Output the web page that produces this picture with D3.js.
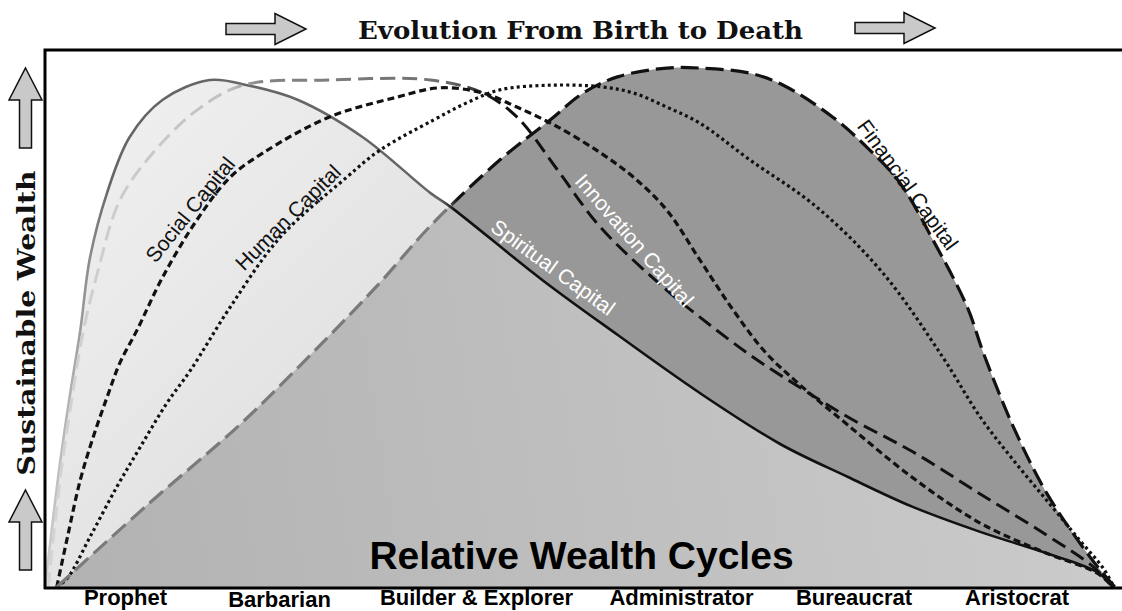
<!DOCTYPE html>
<html>
<head>
<meta charset="utf-8">
<script src="https://cdn.jsdelivr.net/npm/d3@7"></script>
<style>
  html, body { margin: 0; padding: 0; background: #fff; }
  svg { display: block; }
</style>
</head>
<body>
<div id="chart"></div>
<script>
// x = position in the life cycle (0 = birth, 100 = death), y = relative wealth (0-100)
const spiritualCapital = [[0,0],[1.4,23.8],[2.3,36.5],[3.3,49.4],[4.2,63.3],[5.8,75.8],[7.9,86.5],[11.0,93.7],[15.4,97.5],[18.9,96.5],[23.6,93.7],[29.7,86.5],[36.0,75.8],[37.9,73.1],[46.5,59.0],[53.5,48.5],[61.2,37.3],[68.7,27.5],[75.0,21.2],[81.1,15.4],[87.4,10.6],[93.6,6.5],[98.3,2.9],[99.8,0]];
const innovationCapital = [[0.3,0],[1.4,20.6],[2.3,33.5],[3.6,49.4],[4.9,60.4],[7.0,74.4],[10.1,83.5],[14.2,91.7],[18.5,96.5],[26.6,97.5],[36.0,97.5],[40.9,95.0],[44.1,90.4],[47.9,80.2],[51.9,69.2],[58.1,57.1],[61.2,51.9],[65.9,44.6],[70.6,38.3],[75.2,32.5],[81.1,26.0],[87.4,17.9],[93.6,10.0],[97.9,4.0],[99.8,0]];
const socialCapital = [[1.1,0],[2.1,9.6],[3.3,20.6],[4.5,28.8],[5.8,36.5],[7.0,43.1],[8.6,49.4],[11.0,59.6],[14.2,70.6],[17.3,78.8],[20.4,83.5],[26.6,90.4],[32.9,94.2],[36.9,96.0],[40.9,95.0],[44.1,92.3],[47.9,88.5],[51.9,83.5],[55.0,78.8],[58.1,72.5],[61.2,62.9],[64.3,53.3],[67.3,45.2],[70.6,38.8],[75.0,31.2],[81.1,21.0],[87.4,12.3],[93.6,6.5],[98.3,2.7],[99.8,0]];
const humanCapital = [[1.1,0],[2.1,1.7],[4.2,9.6],[6.7,19.2],[8.9,26.9],[11.4,35.4],[13.6,41.7],[17.3,53.8],[22.0,67.3],[28.2,78.8],[31.3,84.0],[36.3,89.8],[39.4,93.1],[42.5,95.6],[47.2,96.5],[51.9,96.2],[55.0,95.0],[58.1,92.3],[61.2,89.2],[65.9,82.1],[72.1,73.1],[78.3,60.4],[83.9,44.2],[87.4,32.7],[90.5,24.4],[93.6,16.7],[96.7,9.0],[98.9,3.6],[99.9,0]];
const financialCapital = [[1.1,0],[9.8,16.2],[18.2,31.2],[25.0,45.0],[31.3,58.5],[36.0,69.4],[42.5,82.1],[47.2,89.8],[50.3,95.0],[53.5,98.1],[58.1,99.8],[61.2,99.8],[65.9,98.8],[69.0,96.5],[73.6,90.4],[76.8,84.6],[79.9,77.7],[83.0,66.7],[86.2,53.8],[87.7,45.0],[90.5,30.8],[93.6,18.1],[96.7,8.5],[98.6,3.3],[100,0]];

const stages = ['Prophet', 'Barbarian', 'Builder & Explorer', 'Administrator', 'Bureaucrat', 'Aristocrat'];

// layout
const width = 1122, height = 611;
const stagePos = [[125.5, 605], [279.5, 606.5], [476.5, 605], [681.5, 605], [854, 605], [1017, 605]];
const curveLabels = [
    { text: 'Social Capital', x: 13.55, y: 72.6, angle: -51, color: '#111' },
    { text: 'Human Capital', x: 22.7, y: 71.1, angle: -45, color: '#111' },
    { text: 'Spiritual Capital', x: 47.5, y: 61.5, angle: 36, color: '#fff' },
    { text: 'Innovation Capital', x: 55.1, y: 66.7, angle: 49, color: '#fff' },
    { text: 'Financial Capital', x: 80.65, y: 77.4, angle: 54, color: '#111' }
];

const svg = d3.select('#chart').append('svg')
    .attr('width', width)
    .attr('height', height);

const x = d3.scaleLinear().domain([0, 100]).range([45, 1115]);
const y = d3.scaleLinear().domain([0, 100]).range([587, 67]);

const curve = d3.curveCatmullRom.alpha(0.5);
const line = d3.line().x(d => x(d[0])).y(d => y(d[1])).curve(curve);
const area = d3.area().x(d => x(d[0])).y0(y(0)).y1(d => y(d[1])).curve(curve);

const defs = svg.append('defs');

function linGrad(id, x1, y1, x2, y2, stops) {
    const g = defs.append('linearGradient')
        .attr('id', id)
        .attr('gradientUnits', 'userSpaceOnUse')
        .attr('x1', x1).attr('y1', y1).attr('x2', x2).attr('y2', y2);
    stops.forEach(s => g.append('stop').attr('offset', s[0]).attr('stop-color', s[1]));
}

linGrad('lightFill', 60, 80, 520, 560, [[0, '#f1f1f1'], [1, '#dadada']]);
linGrad('midFill', 60, 560, 1100, 400, [[0, '#b2b2b2'], [1, '#cbcbcb']]);
// stroke colour changes along x (pixel stops mapped to offsets)
const off = px => (px - 45) / 1070;
linGrad('spiritStroke', 45, 0, 1115, 0, [[0, '#cfcfcf'], [off(70), '#b0b0b0'], [off(110), '#666'], [off(440), '#666'], [off(455), '#111'], [1, '#111']]);
linGrad('innovStroke', 45, 0, 1115, 0, [[0, '#d4d4d4'], [off(230), '#c0c0c0'], [off(260), '#858585'], [off(445), '#707070'], [off(495), '#111'], [1, '#111']]);
linGrad('finStroke', 45, 0, 1115, 0, [[0, '#7a7a7a'], [off(445), '#7a7a7a'], [off(458), '#111'], [1, '#111']]);

defs.append('clipPath').attr('id', 'spiritClip')
    .append('path').attr('d', area(spiritualCapital));

// areas
svg.append('path').attr('d', area(spiritualCapital)).attr('fill', 'url(#lightFill)');
svg.append('path').attr('d', area(financialCapital)).attr('fill', '#989898');
svg.append('path').attr('d', area(financialCapital)).attr('fill', 'url(#midFill)')
    .attr('clip-path', 'url(#spiritClip)');

// curves
const curves = [
    { data: spiritualCapital, stroke: 'url(#spiritStroke)', dash: null, w: 2.6 },
    { data: innovationCapital, stroke: 'url(#innovStroke)', dash: '15,7', w: 3 },
    { data: humanCapital, stroke: '#111', dash: '3,3.2', w: 3.2 },
    { data: socialCapital, stroke: '#111', dash: '7,4', w: 3.2 },
    { data: financialCapital, stroke: 'url(#finStroke)', dash: '18,7', w: 3.2 }
];
svg.selectAll('.curve')
    .data(curves)
    .enter()
    .append('path')
    .attr('class', 'curve')
    .attr('d', d => line(d.data))
    .attr('fill', 'none')
    .attr('stroke', d => d.stroke)
    .attr('stroke-width', d => d.w)
    .attr('stroke-dasharray', d => d.dash);

// frame
svg.append('path')
    .attr('d', 'M45,589 L45,50 L1122,50 M44,588 L1122,588')
    .attr('fill', 'none')
    .attr('stroke', '#000')
    .attr('stroke-width', 3);

// curve labels
svg.selectAll('.curveLabel')
    .data(curveLabels)
    .enter()
    .append('text')
    .attr('class', 'curveLabel')
    .attr('transform', d => `translate(${x(d.x)},${y(d.y)}) rotate(${d.angle})`)
    .attr('text-anchor', 'middle')
    .attr('dominant-baseline', 'central')
    .style('font-family', '"Liberation Sans", Arial, sans-serif')
    .style('font-size', '21px')
    .style('fill', d => d.color)
    .text(d => d.text);

// arrows
function arrowRight(x0, yc) {
    const pts = [[x0, yc - 5.5], [x0 + 49, yc - 5.5], [x0 + 49, yc - 15.5], [x0 + 80, yc],
        [x0 + 49, yc + 15.5], [x0 + 49, yc + 5.5], [x0, yc + 5.5]];
    return 'M' + pts.join('L') + 'Z';
}
function arrowUp(xc, y0) {
    const pts = [[xc, y0], [xc + 16.5, y0 + 32], [xc + 6, y0 + 32], [xc + 6, y0 + 80],
        [xc - 6, y0 + 80], [xc - 6, y0 + 32], [xc - 16.5, y0 + 32]];
    return 'M' + pts.join('L') + 'Z';
}
svg.selectAll('.arrow')
    .data([arrowRight(226, 29), arrowRight(855, 28), arrowUp(25.5, 68), arrowUp(25.5, 490)])
    .enter()
    .append('path')
    .attr('class', 'arrow')
    .attr('d', d => d)
    .attr('fill', '#c9c9c9')
    .attr('stroke', '#111')
    .attr('stroke-width', 1.5)
    .attr('stroke-linejoin', 'miter');

// titles
svg.append('text')
    .attr('x', 580.5)
    .attr('y', 39)
    .attr('text-anchor', 'middle')
    .attr('textLength', 445)
    .attr('lengthAdjust', 'spacingAndGlyphs')
    .style('font-family', '"DejaVu Serif", serif')
    .style('font-weight', 'bold')
    .style('font-size', '25px')
    .style('fill', '#111')
    .text('Evolution From Birth to Death');

svg.append('text')
    .attr('transform', 'translate(35,323) rotate(-90)')
    .attr('text-anchor', 'middle')
    .attr('textLength', 305)
    .attr('lengthAdjust', 'spacingAndGlyphs')
    .style('font-family', '"DejaVu Serif", serif')
    .style('font-weight', 'bold')
    .style('font-size', '25px')
    .style('fill', '#111')
    .text('Sustainable Wealth');

svg.append('text')
    .attr('x', 581.5)
    .attr('y', 569)
    .attr('text-anchor', 'middle')
    .style('font-family', '"Liberation Sans", Arial, sans-serif')
    .style('font-weight', 'bold')
    .style('font-size', '39px')
    .style('fill', '#000')
    .text('Relative Wealth Cycles');

svg.selectAll('.stage')
    .data(stages)
    .enter()
    .append('text')
    .attr('class', 'stage')
    .attr('x', (d, i) => stagePos[i][0])
    .attr('y', (d, i) => stagePos[i][1])
    .attr('text-anchor', 'middle')
    .style('font-family', '"Liberation Sans", Arial, sans-serif')
    .style('font-weight', 'bold')
    .style('font-size', '22px')
    .style('fill', '#000')
    .text(d => d);
</script>
</body>
</html>
